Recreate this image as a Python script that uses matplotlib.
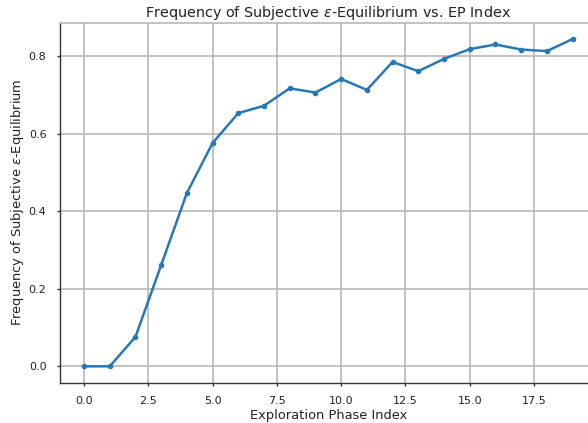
import matplotlib
matplotlib.use("Agg")
import matplotlib.pyplot as plt

# exploration phase index and measured frequency
ep_index = list(range(20))
freq = [0.0, 0.0, 0.076, 0.261, 0.447, 0.576, 0.653, 0.672, 0.717, 0.706,
        0.741, 0.713, 0.785, 0.761, 0.793, 0.818, 0.830, 0.817, 0.813, 0.844]

fig = plt.figure(figsize=(5.88, 4.23), dpi=100)
# axes runs a bit past the right edge, as in the reference
ax = fig.add_axes([59.6 / 588, (423 - 382.7) / 423, (597 - 59.6) / 588, (382.7 - 22.7) / 423])

ax.plot(ep_index, freq, color="#2878b5", linewidth=1.8, marker="o", markersize=3)

ax.grid(True, color="#b8b8b8", linewidth=1.2)
ax.set_axisbelow(True)

for side in ["left", "bottom"]:
    ax.spines[side].set_color("#333333")
    ax.spines[side].set_linewidth(1.0)
for side in ["top", "right"]:
    ax.spines[side].set_color("#b8b8b8")
    ax.spines[side].set_linewidth(1.2)

ax.tick_params(axis="both", direction="out", length=2, width=1, color="#333333",
               labelsize=8, labelcolor="#222222", pad=7.5)

ax.set_xlabel("Exploration Phase Index", fontsize=9.4, color="#222222", labelpad=2)
ax.set_ylabel(r"Frequency of Subjective $\varepsilon$-Equilibrium", fontsize=9.4, color="#222222", labelpad=2)
ax.set_title(r"Frequency of Subjective $\varepsilon$-Equilibrium vs. EP Index", fontsize=10.4, color="#222222", pad=4)

fig.savefig("out.png", dpi=100)
